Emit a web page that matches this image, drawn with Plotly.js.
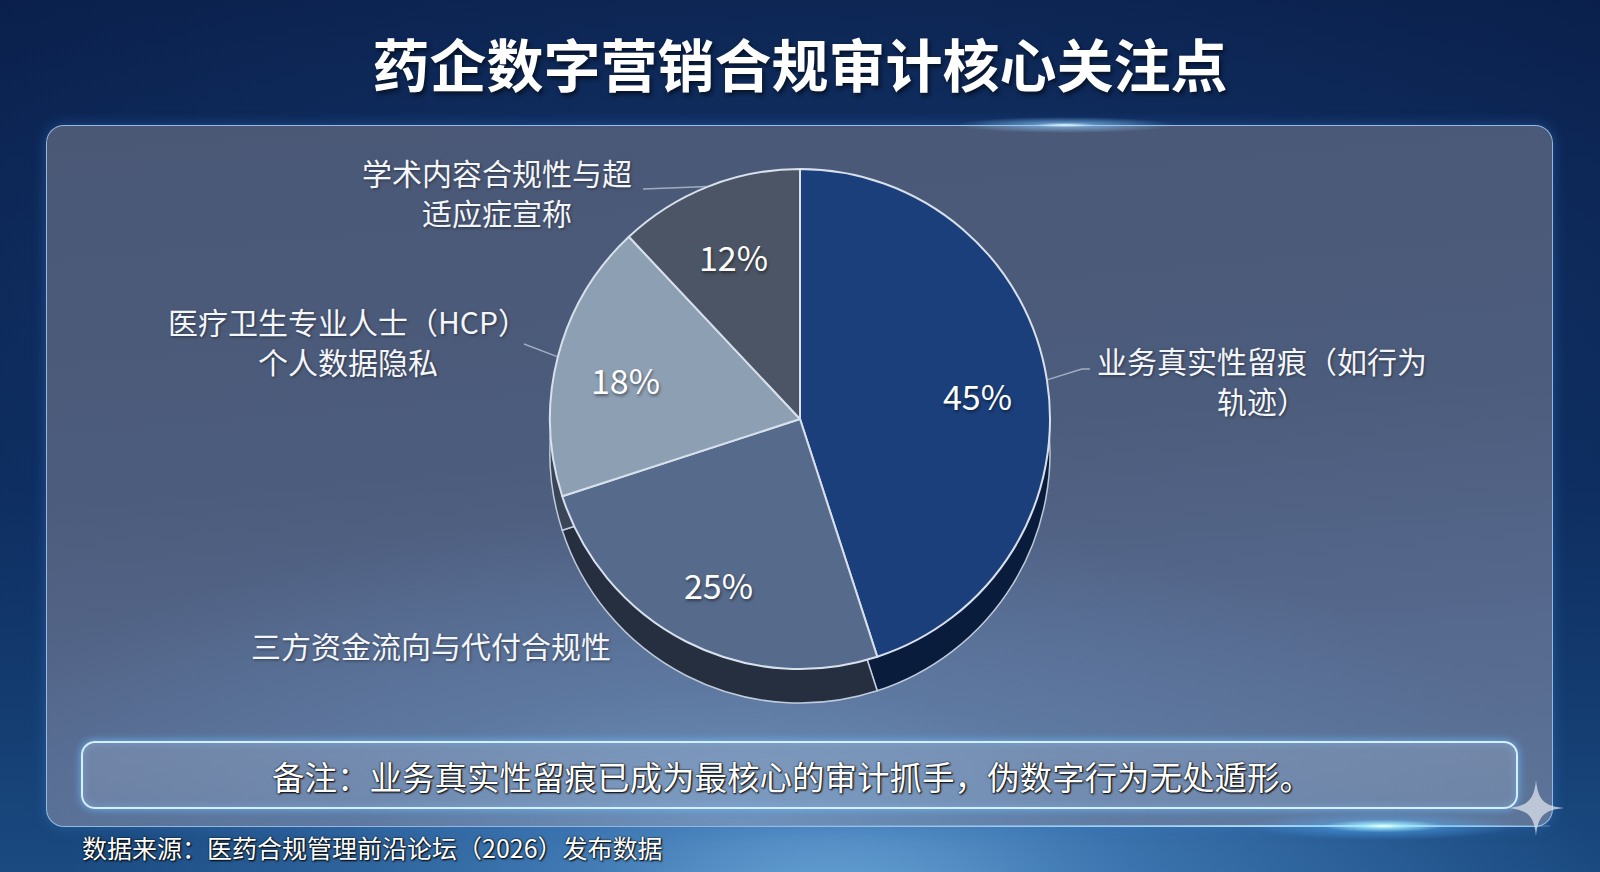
<!DOCTYPE html>
<html>
<head>
<meta charset="utf-8">
<script src="https://cdn.plot.ly/plotly-3.0.1.min.js"></script>
<style>
  html, body { margin:0; padding:0; width:1600px; height:872px; overflow:hidden; background:#0b2250; }
  .layer { position:absolute; left:0; top:0; width:1600px; height:872px; }
  #bg {
    background:
      radial-gradient(ellipse 48% 42% at 52% 104%, rgba(110,170,220,0.95) 0%, rgba(70,130,190,0.75) 40%, rgba(30,80,140,0) 100%),
      radial-gradient(ellipse 70% 60% at 50% 40%, rgba(25,65,120,0.6) 0%, rgba(10,35,80,0) 100%),
      linear-gradient(180deg, #0a1f4b 0%, #0c2a5c 55%, #1a4a80 100%);
  }
  #panel {
    position:absolute; left:46px; top:125px; width:1507px; height:702px; box-sizing:border-box;
    border-radius:18px; border:1.5px solid rgba(160,200,240,0.85);
    background:
      radial-gradient(ellipse 55% 45% at 46% 100%, rgba(112,148,190,0.95) 0%, rgba(98,130,172,0.6) 45%, rgba(90,115,150,0) 100%),
      linear-gradient(175deg, #4a5876 0%, #4c5c7c 45%, #56698e 75%, #5d7599 100%);
    box-shadow: 0 0 14px rgba(60,120,200,0.45);
  }
  #topglow {
    position:absolute; left:955px; top:117px; width:220px; height:16px;
    background: radial-gradient(ellipse 50% 50% at 50% 50%, rgba(230,250,255,1) 0%, rgba(150,210,255,0.55) 28%, rgba(120,180,255,0) 100%);
  }
  #note {
    position:absolute; left:81px; top:741px; width:1437px; height:68px; box-sizing:border-box;
    border-radius:14px; border:2px solid #d4efff;
    background: linear-gradient(180deg, rgba(200,215,235,0.22) 0%, rgba(200,215,235,0.16) 100%);
    box-shadow: 0 0 9px rgba(110,190,255,0.85), inset 0 0 8px rgba(140,200,255,0.35);
  }
  #botglow {
    position:absolute; left:1248px; top:812px; width:270px; height:28px;
    background: radial-gradient(ellipse 50% 50% at 50% 50%, rgba(245,255,255,1) 0%, rgba(160,235,255,0.9) 14%, rgba(90,180,255,0.35) 45%, rgba(80,160,255,0) 100%);
  }
  #botline {
    position:absolute; left:700px; top:825px; width:850px; height:2px;
    background: linear-gradient(90deg, rgba(150,210,255,0) 0%, rgba(170,225,255,0.6) 50%, rgba(190,235,255,0.95) 80%, rgba(150,210,255,0.2) 100%);
  }
  #star { position:absolute; left:1508px; top:780px; width:56px; height:56px; }
  #chart { position:absolute; left:0; top:0; width:1600px; height:872px; }
</style>
</head>
<body>
<div id="bg" class="layer"></div>
<div id="panel"></div>
<div id="topglow"></div>
<div id="note"></div>
<div id="botline"></div>
<div id="botglow"></div>
<div id="chart"></div>
<svg id="star" viewBox="0 0 56 56"><path d="M28 0 C30 20 36 26 56 28 C36 30 30 36 28 56 C26 36 20 30 0 28 C20 26 26 20 28 0 Z" fill="rgba(215,222,232,0.78)"/></svg>
<script>
// ---- data ----
const categories = ['业务真实性留痕（如行为轨迹）', '三方资金流向与代付合规性', '医疗卫生专业人士（HCP）个人数据隐私', '学术内容合规性与超适应症宣称'];
const categoryLabels = ['业务真实性留痕（如行为<br>轨迹）', '三方资金流向与代付合规性', '医疗卫生专业人士（HCP）<br>个人数据隐私', '学术内容合规性与超<br>适应症宣称'];
const shares = [45, 25, 18, 12];
const chartTitle = '药企数字营销合规审计核心关注点';
const noteText = '备注：业务真实性留痕已成为最核心的审计抓手，伪数字行为无处遁形。';
const sourceText = '数据来源：医药合规管理前沿论坛（2026）发布数据';

// ---- styles ----
const topColors = ['#1a3f7a', '#566a8b', '#8d9fb3', '#4c5565'];
const sideColors = ['#0a1c3b', '#252f40', '#3a4658', '#2a313d'];
const FONT = '"Noto Sans CJK SC", "Noto Sans", sans-serif';

// ---- geometry (pixels) ----
const W = 1600, H = 872;
const cx = 800, cy = 419, R = 250, depth = 34;
const px = x => x / W;
const py = y => 1 - y / H;

const topDomain = { x: [px(cx - R), px(cx + R)], y: [py(cy + R), py(cy - R)] };
const sideDomain = { x: topDomain.x, y: [py(cy + R + depth), py(cy - R + depth)] };

const traces = [
  {
    type: 'pie', labels: categories, values: shares, sort: false, direction: 'clockwise', rotation: 0,
    domain: sideDomain, textinfo: 'none', hoverinfo: 'skip', showlegend: false,
    marker: { colors: sideColors, line: { color: 'rgba(205,215,230,0.9)', width: 1.5 } }
  },
  {
    type: 'pie', labels: categories, values: shares, sort: false, direction: 'clockwise', rotation: 0,
    domain: topDomain, textinfo: 'none', hoverinfo: 'skip', showlegend: false,
    marker: { colors: topColors, line: { color: '#d8e0ec', width: 2 } }
  }
];

// mid-angles of slices (clockwise from 12 o'clock)
const total = shares.reduce((a, b) => a + b, 0);
const midAngles = [];
let acc = 0;
shares.forEach(v => { midAngles.push((acc + v / 2) / total * 2 * Math.PI); acc += v; });

const annotations = [];
// percentage labels inside slices
shares.forEach((v, i) => {
  const a = midAngles[i];
  const r = 0.72 * R;
  annotations.push({
    xref: 'paper', yref: 'paper', x: px(cx + r * Math.sin(a)), y: py(cy + 5 - r * Math.cos(a)),
    text: Math.round(v / total * 100) + '%', showarrow: false, xanchor: 'center', yanchor: 'middle',
    font: { family: FONT, size: 34, color: '#ffffff', shadow: '1px 2px 3px rgba(0,0,0,0.45)' }
  });
});

// outside category labels (text block centers) and leader lines (label-side end points)
const labelPos = [[1262, 380], [431, 645], [348, 341], [497, 192]];
const lineGap = 40;
const leaderEnds = [[1082, 369], null, [524, 344], [643, 189]];
categoryLabels.forEach((t, i) => {
  const lines = t.split('<br>');
  lines.forEach((ln, j) => {
    const yc = labelPos[i][1] + (j - (lines.length - 1) / 2) * lineGap;
    annotations.push({
      xref: 'paper', yref: 'paper', x: px(labelPos[i][0]), y: py(yc),
      text: ln, showarrow: false, xanchor: 'center', yanchor: 'middle', align: 'center',
      font: { family: FONT, size: 30, color: '#f3f6fb', shadow: '1px 1px 3px rgba(0,0,0,0.45)' }
    });
  });
});

const shapes = [];
leaderEnds.forEach((e, i) => {
  if (!e) return;
  const a = midAngles[i];
  const ex = cx + R * Math.sin(a), ey = cy - R * Math.cos(a);
  shapes.push({ type: 'line', xref: 'paper', yref: 'paper', x0: px(ex), y0: py(ey), x1: px(e[0]), y1: py(e[1]),
    line: { color: 'rgba(190,200,215,0.75)', width: 1.5 } });
  if (i === 0) {
    shapes.push({ type: 'line', xref: 'paper', yref: 'paper', x0: px(e[0]), y0: py(e[1]), x1: px(e[0] + 8), y1: py(e[1]),
      line: { color: 'rgba(190,200,215,0.75)', width: 1.5 } });
  }
});

// note and source text
annotations.push({
  xref: 'paper', yref: 'paper', x: px(792), y: py(775), text: noteText, showarrow: false,
  xanchor: 'center', yanchor: 'middle',
  font: { family: FONT, size: 32.5, color: '#ffffff', shadow: '0 0 2px #000, 1px 1px 2px #000' }
});
annotations.push({
  xref: 'paper', yref: 'paper', x: px(80), y: py(847), text: sourceText, showarrow: false,
  xanchor: 'left', yanchor: 'middle',
  font: { family: FONT, size: 25, color: '#ffffff', shadow: '0 0 2px #000, 1px 1px 2px #000' }
});

const layout = {
  width: W, height: H,
  margin: { l: 0, r: 0, t: 0, b: 0 },
  paper_bgcolor: 'rgba(0,0,0,0)', plot_bgcolor: 'rgba(0,0,0,0)',
  title: {
    text: chartTitle, x: 0.5, xanchor: 'center', y: py(67), yanchor: 'middle', yref: 'container',
    font: { family: FONT, size: 57, color: '#ffffff', weight: 700, shadow: '2px 3px 4px rgba(0,0,0,0.55)' }
  },
  annotations: annotations,
  shapes: shapes,
  showlegend: false
};

Plotly.newPlot('chart', traces, layout, { displayModeBar: false, staticPlot: true });
</script>
</body>
</html>
